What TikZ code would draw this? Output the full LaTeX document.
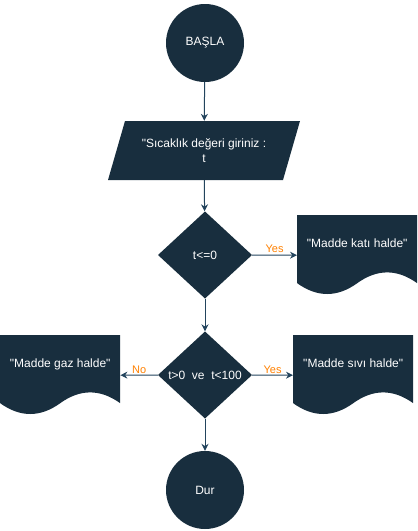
\documentclass[tikz,border=0pt]{standalone}
\usepackage{fontspec}
\setmainfont{Liberation Sans}[Ligatures=TeXOff]
\usetikzlibrary{arrows.meta}
\definecolor{navy}{HTML}{182E3E}
\definecolor{edge}{HTML}{23445D}
\definecolor{lblorange}{HTML}{FF8000}

\begin{document}
\begin{tikzpicture}[x=1pt, y=-1pt,
    every node/.style={font=\fontsize{12}{14.4}\selectfont, text=white},
    term/.style={circle, fill=navy, minimum size=78pt, inner sep=0pt},
    io/.style={rectangle, minimum width=192pt, minimum height=59pt, inner sep=0pt,
               align=center,
               path picture={\fill[navy]
                  ([xshift=17pt]path picture bounding box.north west)
                  -- (path picture bounding box.north east)
                  -- ([xshift=-17pt]path picture bounding box.south east)
                  -- (path picture bounding box.south west) -- cycle;}},
    dec/.style={rectangle, minimum width=94pt, minimum height=87pt, inner sep=0pt,
                path picture={\fill[navy] (path picture bounding box.north)
                  -- (path picture bounding box.east)
                  -- (path picture bounding box.south)
                  -- (path picture bounding box.west) -- cycle;}},
    doc/.style={rectangle, minimum width=120pt, minimum height=80pt, inner sep=0pt,
                anchor=north west, text depth=24pt,
                path picture={\fill[navy] (path picture bounding box.north west)
                  -- (path picture bounding box.north east)
                  -- ([shift={(0pt,12pt)}]path picture bounding box.south east)
                  .. controls ([shift={(-20pt,26.4pt)}]path picture bounding box.south east)
                  and ([shift={(-40pt,26.4pt)}]path picture bounding box.south east)
                  .. ([shift={(-60pt,12pt)}]path picture bounding box.south east)
                  .. controls ([shift={(-80pt,-2.4pt)}]path picture bounding box.south east)
                  and ([shift={(-100pt,-2.4pt)}]path picture bounding box.south east)
                  .. ([shift={(0pt,12pt)}]path picture bounding box.south west)
                  -- cycle;}},
    e/.style={draw=edge, line width=1pt, -{Stealth[length=7pt, width=7pt]}},
    lbl/.style={font=\fontsize{11}{13}\selectfont, text=lblorange, inner sep=1pt},
  ]
  \useasboundingbox (0,0) rectangle (418,531);
  \node[term] (bas) at (205,43) {BAŞLA};
  \node[io] (gir) at (204,150.5) {"Sıcaklık değeri giriniz :\\t};
  \node[dec] (d1) at (205,255) {t<=0};
  \node[doc] (kati) at (297,215) {"Madde katı halde"};
  \node[dec] (d2) at (205,375) {t>0\ \ ve\ \ t<100};
  \node[doc] (gaz) at (0,335) {"Madde gaz halde"};
  \node[doc] (sivi) at (293,335) {"Madde sıvı halde"};
  \node[term] (dur) at (205,490) {Dur};
  \draw[e] (bas) -- (gir);
  \draw[e] (gir) -- (d1);
  \draw[e] (d1.east) -- node[lbl, above, yshift=1pt] {Yes} (kati.west);
  \draw[e] (d1) -- (d2);
  \draw[e] (d2.west) -- node[lbl, above] {No} (gaz.east);
  \draw[e] (d2.east) -- node[lbl, above] {Yes} (sivi.west);
  \draw[e] (d2) -- (dur);
\end{tikzpicture}
\end{document}
